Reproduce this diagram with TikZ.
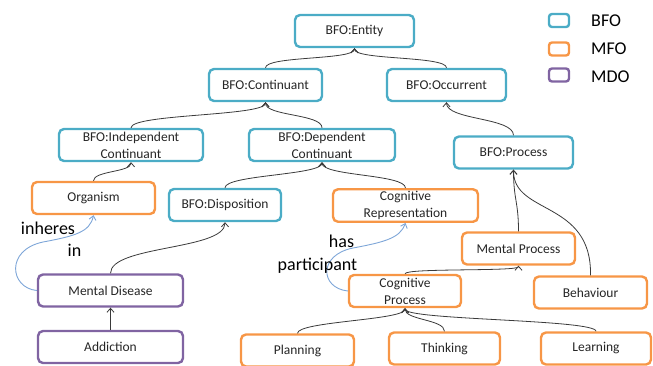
\documentclass[tikz,border=0pt]{standalone}
\usepackage{fontspec}
\setmainfont{Carlito}
\usetikzlibrary{arrows.meta}
\definecolor{bfo}{HTML}{4BACC6}
\definecolor{mfo}{HTML}{F79646}
\definecolor{mdo}{HTML}{8064A2}
\definecolor{ink}{HTML}{3A3A3A}
\definecolor{relblue}{HTML}{7EA6D8}
\begin{document}
\begin{tikzpicture}[x=1pt,y=-1pt,
  box/.style={draw, line width=2.4pt, rounded corners=5pt, minimum height=32pt,
    align=center, font=\fontsize{13.5}{17}\selectfont, text=black!85, inner sep=2pt, fill=white},
  bfobox/.style={box, draw=bfo},
  mfobox/.style={box, draw=mfo},
  mdobox/.style={box, draw=mdo},
  isa/.style={draw=ink, line width=0.8pt, -{Straight Barb[length=4pt,width=7pt]}},
  rel/.style={draw=relblue, line width=0.9pt, -{Straight Barb[length=4pt,width=7pt]}},
  lbl/.style={font=\fontsize{18}{20}\selectfont, text=black, inner sep=0pt},
  legbox/.style={draw, line width=2.4pt, rounded corners=3pt, minimum width=20pt, minimum height=13pt, inner sep=0pt}
]
\useasboundingbox (0,0) rectangle (653,365);

\node[bfobox, minimum width=119pt] (ent) at (354.5,31) {BFO:Entity};
\node[bfobox, minimum width=113pt] (cont) at (265.5,85) {BFO:Continuant};
\node[bfobox, minimum width=119pt] (occ) at (446.5,85) {BFO:Occurrent};
\node[bfobox, minimum width=144pt] (ind) at (131,145) {BFO:Independent\\Continuant};
\node[bfobox, minimum width=146pt] (dep) at (322,145) {BFO:Dependent\\Continuant};
\node[bfobox, minimum width=119pt] (proc) at (513.5,152.5) {BFO:Process};
\node[mfobox, minimum width=123pt] (org) at (93.5,198) {Organism};
\node[bfobox, minimum width=112pt] (disp) at (225,205) {BFO:Disposition};
\node[mdobox, minimum width=145pt] (md) at (110.5,290.5) {Mental Disease};
\node[mdobox, minimum width=145pt] (add) at (110.5,347) {Addiction};
\node[mfobox, minimum width=145pt] (crep) at (405.5,205.5) {Cognitive\\Representation};
\node[mfobox, minimum width=113pt] (mp) at (518.5,248.5) {Mental Process};
\node[mfobox, minimum width=112pt] (cp) at (405,291) {Cognitive\\Process};
\node[mfobox, minimum width=113pt] (beh) at (590.5,292.5) {Behaviour};
\node[mfobox, minimum width=113pt] (plan) at (297.5,350.5) {Planning};
\node[mfobox, minimum width=111pt] (think) at (444.5,348.5) {Thinking};
\node[mfobox, minimum width=110pt] (learn) at (596,348.5) {Learning};

% is-a connectors
\draw[isa] (cont.north) .. controls +(0,-12) and +(0,12) .. (ent.south);
\draw[isa] (occ.north) .. controls +(0,-12) and +(0,12) .. (ent.south);
\draw[isa] (ind.north) .. controls +(0,-14) and +(0,14) .. (cont.south);
\draw[isa] (dep.north) .. controls +(0,-14) and +(0,14) .. (cont.south);
\draw[isa] (proc.north) .. controls +(0,-18) and +(0,18) .. (occ.south);
\draw[isa] (org.north) .. controls +(0,-10) and +(0,10) .. (ind.south);
\draw[isa] (disp.north) .. controls +(0,-13) and +(0,13) .. (dep.south);
\draw[isa] (crep.north) .. controls +(0,-14) and +(0,14) .. (dep.south);
\draw[isa] (md.north) .. controls +(0,-28) and +(0,28) .. (disp.south);
\draw[isa] (add.north) -- (md.south);
\draw[isa] (cp.north) .. controls +(0,-6) and +(0,6) .. (mp.south);
\draw[isa] (mp.north) .. controls +(0,-30) and +(0,30) .. (proc.south);
\draw[isa] (beh.north) .. controls (592,200) and (513,215) .. (proc.south);
\draw[isa] (plan.north) .. controls +(0,-12) and +(0,12) .. (cp.south);
\draw[isa] (think.north) .. controls +(0,-12) and +(0,12) .. (cp.south);
\draw[isa] (learn.north) .. controls +(0,-12) and +(0,12) .. (cp.south);

% relations
\draw[rel] (md.west) .. controls (10,288) and (5,250) .. (43,242) .. controls (75,236) and (90,232) .. (org.south);
\draw[rel] (cp.west) .. controls (320,288) and (318,255) .. (353,248) .. controls (385,242) and (400,238) .. (crep.south);

\node[lbl] (l1a) at (48,228) {inheres};
\node[lbl] (l1b) at (74.5,250) {in};
\node[lbl] (l2a) at (341.5,241) {has};
\node[lbl] (l2b) at (317.5,266) {participant};

% legend
\node[legbox, draw=bfo] (lb) at (559,20.5) {};
\node[legbox, draw=mfo] (lm) at (559,49) {};
\node[legbox, draw=mdo] (ld) at (559,75) {};
\node[lbl, anchor=west] (tb) at (591,21) {BFO};
\node[lbl, anchor=west] (tm) at (591,49) {MFO};
\node[lbl, anchor=west] (td) at (591,77) {MDO};
\end{tikzpicture}
\end{document}
